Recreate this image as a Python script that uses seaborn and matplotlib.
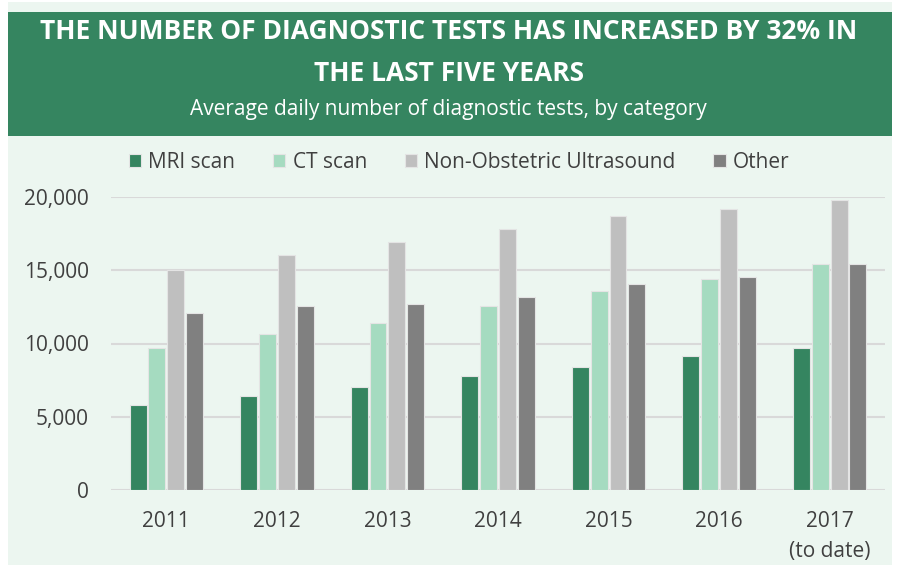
import matplotlib
matplotlib.use("Agg")
import matplotlib.pyplot as plt
from matplotlib.patches import Rectangle
from matplotlib.ticker import FuncFormatter
import pandas as pd
import seaborn as sns

# data
years = ["2011", "2012", "2013", "2014", "2015", "2016", "2017\n(to date)"]
categories = ["MRI scan", "CT scan", "Non-Obstetric Ultrasound", "Other"]
mri = [5800, 6400, 7050, 7800, 8400, 9180, 9660]
ct = [9660, 10660, 11400, 12550, 13550, 14400, 15400]
ultrasound = [15050, 16050, 16900, 17800, 18680, 19160, 19770]
other = [12050, 12550, 12680, 13160, 14050, 14550, 15400]

colors = ["#358560", "#a5dbc0", "#bfbfbf", "#808080"]

rows = []
for name, vals in zip(categories, [mri, ct, ultrasound, other]):
    for y, v in zip(years, vals):
        rows.append({"Year": y, "Category": name, "Tests": v})
df = pd.DataFrame(rows)

sns.set_style("white")
plt.rcParams["font.family"] = ["Open Sans", "DejaVu Sans"]

W, H = 897, 567
fig = plt.figure(figsize=(W / 100, H / 100), dpi=100, facecolor="white")

# panel background and green header
fig.patches.append(Rectangle((8 / W, 2 / H), 884 / W, 563 / H, transform=fig.transFigure,
                             facecolor="#ecf6f0", edgecolor="none", zorder=-10))
fig.patches.append(Rectangle((8 / W, 1 - 136 / H), 884 / W, 124 / H, transform=fig.transFigure,
                             facecolor="#358560", edgecolor="none", zorder=-9))

fig.text(0.5, 1 - 52.5 / H, "THE NUMBER OF DIAGNOSTIC TESTS HAS INCREASED BY 32% IN\nTHE LAST FIVE YEARS",
         ha="center", va="center", color="white", fontsize=19, fontweight="bold", linespacing=1.75)
fig.text(0.5, 1 - 110 / H, "Average daily number of diagnostic tests, by category",
         ha="center", va="center", color="white", fontsize=15)

ax = fig.add_axes([111 / W, 1 - 490 / H, 774 / W, 293 / H])
ax.set_facecolor("none")
ax.set_zorder(2)

sns.barplot(data=df, x="Year", y="Tests", hue="Category", palette=colors, saturation=1,
            width=0.68, gap=0.1, edgecolor="#e4e4e4", linewidth=0.8, ax=ax, zorder=3)

ax.set_ylim(0, 20000)
ax.set_xlim(-0.5, 6.5)
ax.set_yticks([0, 5000, 10000, 15000, 20000])
ax.yaxis.set_major_formatter(FuncFormatter(lambda v, p: f"{int(v):,}"))
ax.grid(axis="y", color="#d9d9d9", linewidth=1.5, zorder=0)
ax.set_axisbelow(True)
for s in ax.spines.values():
    s.set_visible(False)
ax.tick_params(axis="both", length=0, labelsize=15, labelcolor="#404040")
ax.tick_params(axis="y", pad=16)
ax.tick_params(axis="x", pad=15)
for lbl in ax.get_xticklabels():
    lbl.set_linespacing(1.55)
ax.set_xlabel("")
ax.set_ylabel("")

handles, labels = ax.get_legend_handles_labels()
ax.get_legend().remove()
fig.legend(handles, labels, loc="center", bbox_to_anchor=(459 / W, 1 - 162 / H), ncol=4,
           frameon=False, fontsize=15, labelcolor="#404040", handlelength=0.6,
           handleheight=0.6, handletextpad=0.35, columnspacing=1.8)

fig.savefig("out.png", dpi=100, facecolor="white")
